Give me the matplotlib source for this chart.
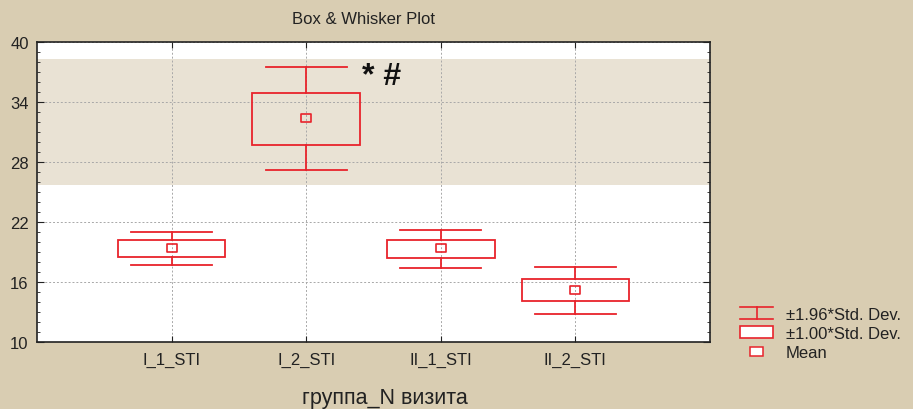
import matplotlib
matplotlib.use("Agg")
import matplotlib.pyplot as plt
from matplotlib.patches import Rectangle
from matplotlib.lines import Line2D
from matplotlib.legend_handler import HandlerBase
from matplotlib.path import Path
import numpy as np

categories = ["I_1_STI", "I_2_STI", "II_1_STI", "II_2_STI"]
means = [19.4, 32.4, 19.4, 15.2]
box_low = [18.5, 29.7, 18.4, 14.1]
box_high = [20.2, 34.9, 20.2, 16.3]
whisk_low = [17.7, 27.2, 17.4, 12.8]
whisk_high = [21.0, 37.5, 21.2, 17.5]
band = (25.7, 38.3)
yticks = [10, 16, 22, 28, 34, 40]

BG = "#d9cdb2"
BAND = "#e9e2d4"
RED = "#e8232b"

plt.rcParams['font.family'] = ['Liberation Sans', 'DejaVu Sans']

fig = plt.figure(figsize=(9.13, 4.10), dpi=100, facecolor=BG)
ax = fig.add_axes([37/913, 1-343/410, (710-37)/913, 300/410])
ax.set_facecolor("white")
ax.set_xlim(0, 5)
ax.set_ylim(10, 40)

ax.axhspan(band[0], band[1], color=BAND, zorder=0, lw=0)

rect_marker = Path([(-1.3, -1), (1.3, -1), (1.3, 1), (-1.3, 1), (-1.3, -1)],
                   [Path.MOVETO, Path.LINETO, Path.LINETO, Path.LINETO, Path.CLOSEPOLY])

x = np.arange(1, len(categories) + 1)
bw = 0.8
cw = 0.6
for xi, m, bl, bh, wl, wh in zip(x, means, box_low, box_high, whisk_low, whisk_high):
    ax.plot([xi, xi], [bh, wh], color=RED, lw=1.3, zorder=3)
    ax.plot([xi, xi], [wl, bl], color=RED, lw=1.3, zorder=3)
    ax.plot([xi - cw/2, xi + cw/2], [wh, wh], color=RED, lw=1.3, zorder=3)
    ax.plot([xi - cw/2, xi + cw/2], [wl, wl], color=RED, lw=1.3, zorder=3)
    ax.add_patch(Rectangle((xi - bw/2, bl), bw, bh - bl, fill=False, ec=RED, lw=1.3, zorder=3))
    ax.plot([xi], [m], marker=rect_marker, ms=7.5, mfc='none', mec=RED, mew=1.2, ls='none', zorder=4)

ax.text(2.415, 36.6, "* #", fontsize=23, fontweight='bold', color='#111111', ha='left', va='center')

ax.set_xticks(x)
ax.set_xticklabels(categories, fontsize=12)
ax.set_yticks(yticks)
ax.set_yticklabels([str(t) for t in yticks], fontsize=12)
ax.set_yticks(np.arange(10, 41, 1), minor=True)
ax.tick_params(axis='both', which='both', direction='in', top=True, right=True, colors='#222222', labelcolor='#222222')
ax.tick_params(axis='x', which='major', length=4, pad=7)
ax.tick_params(axis='y', which='major', length=5, pad=6)
ax.tick_params(axis='y', which='minor', length=2.5)
ax.tick_params(axis='x', which='minor', bottom=False, top=False)
ax.grid(True, which='major', color='#a8a8a8', ls=(0, (2, 2)), lw=0.7, zorder=1)
ax.set_axisbelow(True)
for s in ax.spines.values():
    s.set_color('#222222')
    s.set_linewidth(1.2)

fig.text(363/913, 1-19/410, "Box & Whisker Plot", fontsize=12, ha='center', va='center', color='#222222')
fig.text(385/913, 1-399/410, "группа_N визита", fontsize=15.5, ha='center', va='center', color='#222222')

class WhiskerHandler(HandlerBase):
    def create_artists(self, legend, orig, xd, yd, w, h, fontsize, trans):
        cx = xd + w/2
        l1 = Line2D([xd, xd + w], [yd + h, yd + h], color=RED, lw=1.2, transform=trans)
        l2 = Line2D([xd, xd + w], [yd, yd], color=RED, lw=1.2, transform=trans)
        l3 = Line2D([cx, cx], [yd, yd + h], color=RED, lw=1.2, transform=trans)
        return [l1, l2, l3]

class BoxHandler(HandlerBase):
    def create_artists(self, legend, orig, xd, yd, w, h, fontsize, trans):
        r = Rectangle((xd, yd), w, h, fc='white', ec=RED, lw=1.2, transform=trans)
        return [r]

class MeanHandler(HandlerBase):
    def create_artists(self, legend, orig, xd, yd, w, h, fontsize, trans):
        r = Rectangle((xd + w/2 - 4.5, yd + h/2 - 3.5), 9, 6, fc='white', ec=RED, lw=1.1, transform=trans)
        return [r]

hw, hb, hm = object(), object(), object()
leg = fig.legend([hw, hb, hm], ["±1.96*Std. Dev.", "±1.00*Std. Dev.", "Mean"],
                 handler_map={hw: WhiskerHandler(), hb: BoxHandler(), hm: MeanHandler()},
                 loc='upper left', bbox_to_anchor=(740/913, 1-308/410),
                 frameon=False, fontsize=12, handlelength=2.0, handleheight=0.75,
                 handletextpad=0.75, labelspacing=0.25, borderaxespad=0, borderpad=0)
for t in leg.get_texts():
    t.set_color('#222222')

fig.savefig("out.png", dpi=100, facecolor=BG)
